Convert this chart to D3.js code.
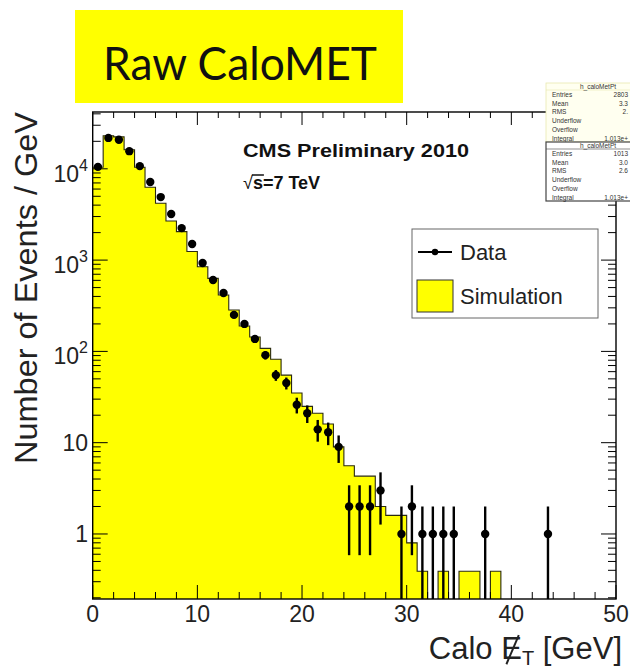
<!DOCTYPE html>
<html>
<head>
<meta charset="utf-8">
<script src="https://cdn.jsdelivr.net/npm/d3@7"></script>
<style>
  body { margin: 0; background: #fff; }
  svg { display: block; }
  text { font-family: "Liberation Sans", Arial, Helvetica, sans-serif; }
</style>
</head>
<body>
<svg id="chart" width="630" height="672"></svg>
<script>
// Calo MET spectrum, 1 GeV bins from 0 to 50 GeV
const xDomain = [0, 50];
const binWidth = 1;

// Observed events per bin (bins 0-1, 1-2, ... 49-50 GeV)
const dataCounts = [
  10500, 21800, 20800, 15600, 10700, 7160, 4900, 3200, 2240, 1500,
  929, 605, 436, 251, 200, 137, 91, 55, 45, 26,
  21, 14, 13, 9, 2, 2, 2, 3, 0, 1,
  2, 1, 1, 1, 1, 0, 0, 1, 0, 0,
  0, 0, 0, 1, 0, 0, 0, 0, 0, 0
];

// Simulated prediction per bin, normalised to the data
const simValues = [
  10400, 23000, 22400, 16200, 10400, 6270, 4190, 2680, 2050, 1240,
  847, 631, 415, 284, 190, 144, 108, 82, 55, 35,
  25, 21, 16, 9.0, 5.6, 4.3, 4.3, 2.0, 1.6, 1.6,
  0.8, 0.39, 0, 0.39, 0, 0.39, 0.39, 0, 0.39, 0,
  0, 0, 0, 0, 0, 0, 0, 0, 0, 0
];

const yDomain = [0.194, 41900];
const yTickValues = [1, 10, 100, 1000, 10000];
const yTickBase = ["1", "10", "10", "10", "10"];
const yTickExp = ["", "", "2", "3", "4"];
const xTickValues = [0, 10, 20, 30, 40, 50];
const xMinorStep = 2;

const legendLabels = ["Data", "Simulation"];

const statTitles = ["h_caloMetPt", "h_caloMetPt"];
const statRowNames = ["Entries", "Mean", "RMS", "Underflow", "Overflow", "Integral"];
const statSimValues = ["2803", "3.3", "2.", "", "", "1.013e+"];
const statDataValues = ["1013", "3.0", "2.6", "", "", "1.013e+"];

// ---------------------------------------------------------------
const svg = d3.select("#chart");
const plot = { left: 92.7, right: 616, top: 112, bottom: 599 };

const x = d3.scaleLinear().domain(xDomain).range([plot.left, plot.right]);
const y = d3.scaleLog().domain(yDomain).range([plot.bottom, plot.top]);
const yv = v => (v > 0 ? y(v) : plot.bottom + 5);

svg.append("defs").append("clipPath").attr("id", "plotClip")
  .append("rect")
  .attr("x", plot.left).attr("y", plot.top)
  .attr("width", plot.right - plot.left).attr("height", plot.bottom - plot.top);

// Title banner
svg.append("rect")
  .attr("x", 75).attr("y", 10).attr("width", 328).attr("height", 93)
  .attr("fill", "#ffff00");
svg.append("text")
  .attr("x", 240).attr("y", 80)
  .attr("text-anchor", "middle")
  .style("font-family", "Lato, 'Open Sans', sans-serif")
  .style("font-size", "46px")
  .attr("fill", "#111")
  .attr("textLength", 274).attr("lengthAdjust", "spacingAndGlyphs")
  .text("Raw CaloMET");

// Simulation histogram (filled steps)
const stepPts = simValues.map((v, i) => ({ e: xDomain[0] + i * binWidth, v }));
stepPts.push({ e: xDomain[0] + simValues.length * binWidth, v: simValues[simValues.length - 1] });

const g = svg.append("g").attr("clip-path", "url(#plotClip)");

g.append("path")
  .datum(stepPts)
  .attr("fill", "#ffff00")
  .attr("d", d3.area().curve(d3.curveStepAfter)
    .x(d => x(d.e)).y0(plot.bottom + 5).y1(d => yv(d.v)));

g.append("path")
  .datum(stepPts)
  .attr("fill", "none")
  .attr("stroke", "#2a2a10")
  .attr("stroke-width", 1.1)
  .attr("d", d3.line().curve(d3.curveStepAfter)
    .x(d => x(d.e)).y(d => yv(d.v)));

// Data points with Poisson error bars
const pts = dataCounts
  .map((n, i) => ({ c: xDomain[0] + (i + 0.5) * binWidth, n }))
  .filter(d => d.n > 0);

g.selectAll("line.err").data(pts).join("line")
  .attr("class", "err")
  .attr("x1", d => x(d.c)).attr("x2", d => x(d.c))
  .attr("y1", d => y(d.n + Math.sqrt(d.n)))
  .attr("y2", d => yv(d.n - Math.sqrt(d.n)))
  .attr("stroke", "#000").attr("stroke-width", 2.4);

g.selectAll("circle.pt").data(pts).join("circle")
  .attr("class", "pt")
  .attr("cx", d => x(d.c)).attr("cy", d => y(d.n))
  .attr("r", 4.2).attr("fill", "#000");

// Frame
svg.append("rect")
  .attr("x", plot.left).attr("y", plot.top)
  .attr("width", plot.right - plot.left).attr("height", plot.bottom - plot.top)
  .attr("fill", "none").attr("stroke", "#000").attr("stroke-width", 1.4);

// Y ticks (log): major and minor on both sides
const yMinor = [];
for (let p = -1; p <= 4; p++) {
  for (let k = 2; k <= 9; k++) {
    const v = k * Math.pow(10, p);
    if (v >= yDomain[0] && v <= yDomain[1]) yMinor.push(v);
  }
}
const tickG = svg.append("g").attr("stroke", "#000").attr("stroke-width", 1);
yTickValues.forEach(v => {
  tickG.append("line").attr("x1", plot.left).attr("x2", plot.left + 15)
    .attr("y1", y(v)).attr("y2", y(v));
  tickG.append("line").attr("x1", plot.right).attr("x2", plot.right - 15)
    .attr("y1", y(v)).attr("y2", y(v));
});
yMinor.forEach(v => {
  tickG.append("line").attr("x1", plot.left).attr("x2", plot.left + 8)
    .attr("y1", y(v)).attr("y2", y(v));
  tickG.append("line").attr("x1", plot.right).attr("x2", plot.right - 8)
    .attr("y1", y(v)).attr("y2", y(v));
});

// X ticks on bottom and top
d3.range(xDomain[0], xDomain[1] + 0.001, xMinorStep).forEach(v => {
  const major = xTickValues.includes(v);
  const len = major ? 14 : 7;
  tickG.append("line").attr("x1", x(v)).attr("x2", x(v))
    .attr("y1", plot.bottom).attr("y2", plot.bottom - len);
  tickG.append("line").attr("x1", x(v)).attr("x2", x(v))
    .attr("y1", plot.top).attr("y2", plot.top + (major ? 13 : 6));
});

// Y tick labels
const yLab = svg.append("g").style("font-size", "23px").attr("fill", "#222");
yTickValues.forEach((v, i) => {
  const t = yLab.append("text")
    .attr("x", 88).attr("text-anchor", "end");
  if (yTickExp[i]) {
    t.attr("y", y(v) + 13);
    t.append("tspan").text(yTickBase[i]);
    t.append("tspan").attr("dy", -11).style("font-size", "16px").text(yTickExp[i]);
  } else {
    t.attr("y", y(v) + 8).text(yTickBase[i]);
  }
});

// X tick labels
svg.append("g").style("font-size", "23px").attr("fill", "#222")
  .selectAll("text").data(xTickValues).join("text")
  .attr("x", d => x(d)).attr("y", 622)
  .attr("text-anchor", "middle")
  .text(d => d);

// Axis titles
svg.append("text")
  .attr("transform", "translate(37,288) rotate(-90)")
  .attr("text-anchor", "middle")
  .style("font-size", "31px").attr("fill", "#222")
  .attr("textLength", 352).attr("lengthAdjust", "spacingAndGlyphs")
  .text("Number of Events / GeV");

const xt = svg.append("text")
  .attr("x", 622).attr("y", 659)
  .attr("text-anchor", "end")
  .style("font-size", "31px").attr("fill", "#222");
xt.append("tspan").text("Calo ");
xt.append("tspan").text("E");
xt.append("tspan").attr("dy", 6).style("font-size", "20px").text("T");
xt.append("tspan").attr("dy", -6).text(" [GeV]");
// slash across the E (missing transverse energy)
{
  const node = xt.node();
  const eBox = node.getExtentOfChar(5);
  svg.append("line")
    .attr("x1", eBox.x + eBox.width * 0.25).attr("y1", eBox.y + eBox.height * 0.95)
    .attr("x2", eBox.x + eBox.width * 0.85).attr("y2", eBox.y + eBox.height * 0.12)
    .attr("stroke", "#222").attr("stroke-width", 2);
}

// CMS labels
svg.append("text")
  .attr("x", 243).attr("y", 157)
  .style("font-size", "18px").style("font-weight", "bold").attr("fill", "#111")
  .attr("textLength", 226).attr("lengthAdjust", "spacingAndGlyphs")
  .text("CMS Preliminary 2010");
const rs = svg.append("text")
  .attr("x", 243).attr("y", 189)
  .style("font-size", "18px").style("font-weight", "bold").attr("fill", "#111");
rs.append("tspan").style("font-weight", "normal").text("\u221A");
rs.append("tspan").text("s=7 TeV");
{
  const node = rs.node();
  const rad = node.getExtentOfChar(0);
  const sBox = node.getExtentOfChar(1);
  svg.append("line")
    .attr("x1", rad.x + rad.width - 1).attr("x2", sBox.x + sBox.width + 1)
    .attr("y1", rad.y + 2).attr("y2", rad.y + 2)
    .attr("stroke", "#111").attr("stroke-width", 1.5);
}

// Legend
const leg = svg.append("g");
leg.append("rect")
  .attr("x", 412).attr("y", 229).attr("width", 186).attr("height", 89)
  .attr("fill", "#fff").attr("stroke", "#666").attr("stroke-width", 1);
leg.append("line").attr("x1", 418).attr("x2", 452).attr("y1", 252).attr("y2", 252)
  .attr("stroke", "#000").attr("stroke-width", 2);
leg.append("circle").attr("cx", 435).attr("cy", 252).attr("r", 3.2).attr("fill", "#000");
leg.append("rect").attr("x", 417).attr("y", 280).attr("width", 36).attr("height", 32)
  .attr("fill", "#ffff00").attr("stroke", "#333").attr("stroke-width", 1);
leg.selectAll("text.lg").data(legendLabels).join("text")
  .attr("class", "lg")
  .attr("x", 460).attr("y", (d, i) => (i === 0 ? 260 : 304))
  .style("font-size", "22px").attr("fill", "#222")
  .text(d => d);

// Statistics boxes, running off the right edge of the page
function statBox(y0, title, values, fill, stroke, sw) {
  const b = svg.append("g");
  b.append("rect").attr("x", 546).attr("y", y0).attr("width", 120).attr("height", 59)
    .attr("fill", fill).attr("stroke", stroke).attr("stroke-width", sw);
  b.append("line").attr("x1", 546).attr("x2", 666).attr("y1", y0 + 7).attr("y2", y0 + 7)
    .attr("stroke", stroke).attr("stroke-width", 0.6);
  b.append("text").attr("x", 598).attr("y", y0 + 6).attr("text-anchor", "middle")
    .style("font-size", "6.5px").attr("fill", "#333").text(title);
  statRowNames.forEach((r, i) => {
    const yy = y0 + 14 + i * 8.7;
    b.append("text").attr("x", 552).attr("y", yy)
      .style("font-size", "6.5px").attr("fill", "#333").text(r);
    if (values[i]) {
      b.append("text").attr("x", 628).attr("y", yy).attr("text-anchor", "end")
        .style("font-size", "6.5px").attr("fill", "#333").text(values[i]);
    }
  });
}
statBox(83, statTitles[0], statSimValues, "#fffff0", "#e8e8b0", 0.8);
statBox(142, statTitles[1], statDataValues, "#ffffff", "#444", 1.2);
</script>
</body>
</html>
